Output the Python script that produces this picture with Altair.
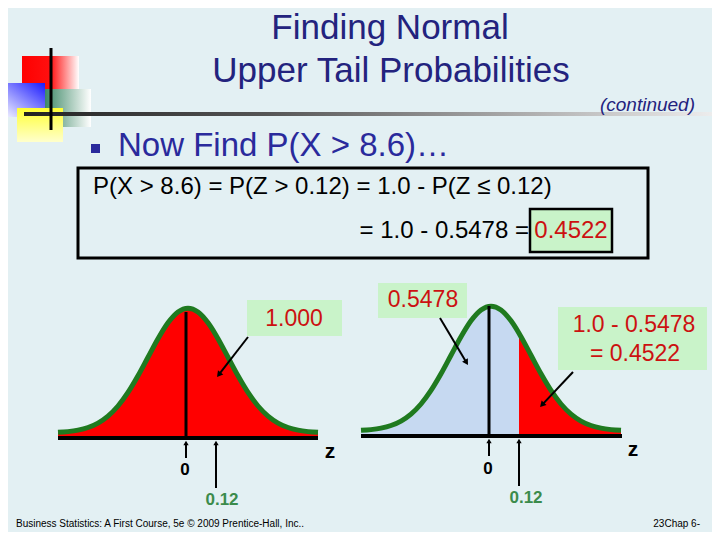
import math
import altair as alt
import pandas as pd

# ---------------- data ----------------
# tabulated standard normal density  phi(z)
z_vals = [-3.25, -3.0, -2.75, -2.5, -2.25, -2.0, -1.75, -1.5, -1.25, -1.0, -0.75,
          -0.5, -0.25, 0.0, 0.25, 0.5, 0.7, 0.75, 1.0, 1.25, 1.5, 1.75, 2.0, 2.25, 2.5,
          2.75, 3.0, 3.25]
pdf_vals = [0.00203, 0.00443, 0.00909, 0.01753, 0.03174, 0.05399, 0.08628,
            0.12952, 0.18265, 0.24197, 0.30114, 0.35207, 0.38667, 0.39894, 0.38667,
            0.35207, 0.31225, 0.30114, 0.24197, 0.18265, 0.12952, 0.08628, 0.05399,
            0.03174, 0.01753, 0.00909, 0.00443, 0.00203]
cut_display = 0.7           # where the "0.12" cut is drawn on the sketch
tick_labels = ["0", "0.12"]
areas = ["1.000", "0.5478", "1.0 - 0.5478", "= 0.4522"]

title_lines = ["Finding Normal", "Upper Tail Probabilities"]
subtitle = "(continued)"
bullet_text = "Now Find P(X > 8.6)\u2026"
eq_line1 = "P(X > 8.6) = P(Z > 0.12) = 1.0 - P(Z \u2264 0.12)"
eq_line2 = "= 1.0 - 0.5478 ="
answer = "0.4522"
footer_left = "Business Statistics: A First Course, 5e \u00a9 2009 Prentice-Hall, Inc.."
footer_right = "23Chap 6-"

# ---------------- layout / style ----------------
X0, X1, Y0, Y1 = 8, 712, 8, 532
BG = "#e3f0f3"
NAVY = "#23237e"
BLUE2 = "#2a2a9c"
RED = "#cc1111"
GREEN_TXT = "#3b8b4b"
CURVE = "#1f7a1f"
LIGHTBLUE = "#c6d9f1"
MINT = "#c9f3c9"
FONT = "Liberation Sans"

xs = alt.Scale(domain=[X0, X1], nice=False, zero=False)
ys = alt.Scale(domain=[Y0, Y1], nice=False, zero=False, reverse=True)


def XY(xf="x", yf="y"):
    return dict(x=alt.X(f"{xf}:Q", scale=xs, axis=None),
                y=alt.Y(f"{yf}:Q", scale=ys, axis=None))


def rect(x0, x1, y0, y1, **mk):
    df = pd.DataFrame({"x0": [x0], "x1": [x1], "y0": [y0], "y1": [y1]})
    return alt.Chart(df).mark_rect(**mk).encode(
        x=alt.X("x0:Q", scale=xs, axis=None), x2="x1:Q",
        y=alt.Y("y0:Q", scale=ys, axis=None), y2="y1:Q")


def seg(x0, y0, x1, y1, color="black", width=2):
    df = pd.DataFrame({"x0": [x0], "x1": [x1], "y0": [y0], "y1": [y1]})
    return alt.Chart(df).mark_rule(color=color, strokeWidth=width).encode(
        x=alt.X("x0:Q", scale=xs, axis=None), x2="x1:Q",
        y=alt.Y("y0:Q", scale=ys, axis=None), y2="y1:Q")


def arrow(x0, y0, x1, y1, width=2, size=45):
    dx, dy = x1 - x0, y1 - y0
    L = math.hypot(dx, dy)
    ang = math.degrees(math.atan2(dx, -dy)) % 360
    hx, hy = x1 - 3 * dx / L, y1 - 3 * dy / L
    head = alt.Chart(pd.DataFrame({"x": [hx], "y": [hy], "a": [ang]})).mark_point(
        shape="triangle-up", filled=True, color="black", size=size, opacity=1
    ).encode(**XY(), angle=alt.Angle("a:Q", scale=None))
    return [seg(x0, y0, hx, hy, width=width), head]


def text(t, x, y, size, color="black", align="center", weight="normal",
         style="normal", font=FONT):
    df = pd.DataFrame({"x": [x], "y": [y], "t": [t]})
    return alt.Chart(df).mark_text(
        font=font, fontSize=size, color=color, align=align, baseline="middle",
        fontWeight=weight, fontStyle=style).encode(**XY(), text="t:N")


def grad(stops, x1=0, y1=0, x2=1, y2=0):
    return alt.Gradient(gradient="linear", x1=x1, y1=y1, x2=x2, y2=y2,
                        stops=[alt.GradientStop(offset=o, color=c) for o, c in stops])


layers = []

# ---- logo ----
layers.append(rect(22, 79, 56, 89, fill=grad([(0, "#ff0000"), (0.5, "#ff1010"), (1, "#ffffff")])))
layers.append(rect(0, 45, 83, 117, clip=True,
                   fill=grad([(0, "#ffffff"), (1, "#1a1aff")], x1=0, y1=1, x2=1, y2=0)))
layers.append(rect(45, 91, 89, 127, fill=grad([(0, "#3d8866"), (1, "#ffffff")])))
layers.append(rect(17, 63, 108, 142, fill=grad([(0, "#ffff33"), (1, "#ffffcc")], x2=0, y2=1)))
layers.append(rect(24, 716, 112, 116, clip=True,
                   fill=grad([(0, "#222222"), (0.35, "#555555"), (1, "#eeeeee")])))
layers.append(seg(51, 48, 51, 130, width=3))

# ---- title & bullet ----
layers.append(text(title_lines[0], 390, 28, 35, NAVY))
layers.append(text(title_lines[1], 391, 71, 35, NAVY))
layers.append(text(subtitle, 695, 105, 19, NAVY, align="right", style="italic"))
layers.append(rect(91, 100, 144, 153, fill=BLUE2))
layers.append(text(bullet_text, 118, 146, 33, BLUE2, align="left"))

# ---- equation box ----
layers.append(rect(78, 648, 168, 258, fill=BG, fillOpacity=0, stroke="black", strokeWidth=3))
layers.append(text(eq_line1, 93, 187, 24, align="left"))
layers.append(text(eq_line2, 529, 231, 24, align="right"))
layers.append(rect(530, 612, 209, 252, fill=MINT, stroke="black", strokeWidth=2.5))
layers.append(text(answer, 571, 231, 24, RED))

# ---- normal curves ----
SIG, K, LIFT = 40, 313, 5


def curve_df(cx, base):
    return pd.DataFrame({"z": z_vals, "pdf": pdf_vals}).assign(
        px=lambda d: cx + d.z * SIG, py=lambda d: base - LIFT - d.pdf * K, base=base)


def area(df, color):
    return alt.Chart(df).mark_area(color=color, interpolate="monotone", opacity=1).encode(
        **XY("px", "py"), y2="base:Q")


def line(df):
    return alt.Chart(df).mark_line(color=CURVE, strokeWidth=5, interpolate="monotone").encode(
        **XY("px", "py"))


LC, LB = 188, 438
RC, RB = 491, 436
left = curve_df(LC, LB)
right = curve_df(RC, RB)

# label boxes
layers.append(rect(247, 342, 300, 336, fill=MINT))
layers.append(rect(378, 467, 283, 318, fill=MINT))
layers.append(rect(558, 707, 307, 370, fill=MINT))

layers.append(area(left, "#ff0000"))
layers.append(line(left))
layers.append(area(right[right.z <= cut_display], LIGHTBLUE))
layers.append(area(right[right.z >= cut_display], "#ff0000"))
layers.append(line(right))

layers.append(seg(LC - 2, 312, LC - 2, LB, width=3))
layers.append(seg(RC - 2, 306, RC - 2, RB, width=3))
layers.append(seg(58, LB, 318, LB, width=4))
layers.append(seg(361, RB, 622, RB, width=4))

for cx, base in ((LC, LB), (RC, RB)):
    x0 = cx - 2
    xc = cx + cut_display * SIG
    layers += arrow(x0, base + 20, x0, base + 2, width=2, size=28)
    layers += arrow(xc, base + 50, xc, base + 2, width=2, size=28)

layers += arrow(248, 337, 217, 377)
layers += arrow(440, 318, 468, 365)
layers += arrow(573, 372, 540, 407)

layers.append(text(areas[0], 294, 319, 23, RED))
layers.append(text(areas[1], 423, 300, 23, RED))
layers.append(text(areas[2], 634, 325, 23, RED))
layers.append(text(areas[3], 635, 354, 23, RED))

layers.append(text(tick_labels[0], 185, 470, 17, weight="bold"))
layers.append(text(tick_labels[0], 488, 469, 17, weight="bold"))
layers.append(text(tick_labels[1], 222, 500, 17, GREEN_TXT, weight="bold"))
layers.append(text(tick_labels[1], 526, 498, 17, GREEN_TXT, weight="bold"))
layers.append(text("z", 330, 452, 21, weight="bold"))
layers.append(text("z", 633, 450, 21, weight="bold"))

layers.append(text(footer_left, 16, 524, 10, align="left"))
layers.append(text(footer_right, 700, 524, 10, align="right"))

chart = alt.layer(*layers).properties(
    width=X1 - X0, height=Y1 - Y0, padding=0, background=BG,
    autosize=alt.AutoSizeParams(type="none"),
).configure_view(strokeWidth=0)

chart.save("out.html", embed_options={"renderer": "svg", "actions": False})
